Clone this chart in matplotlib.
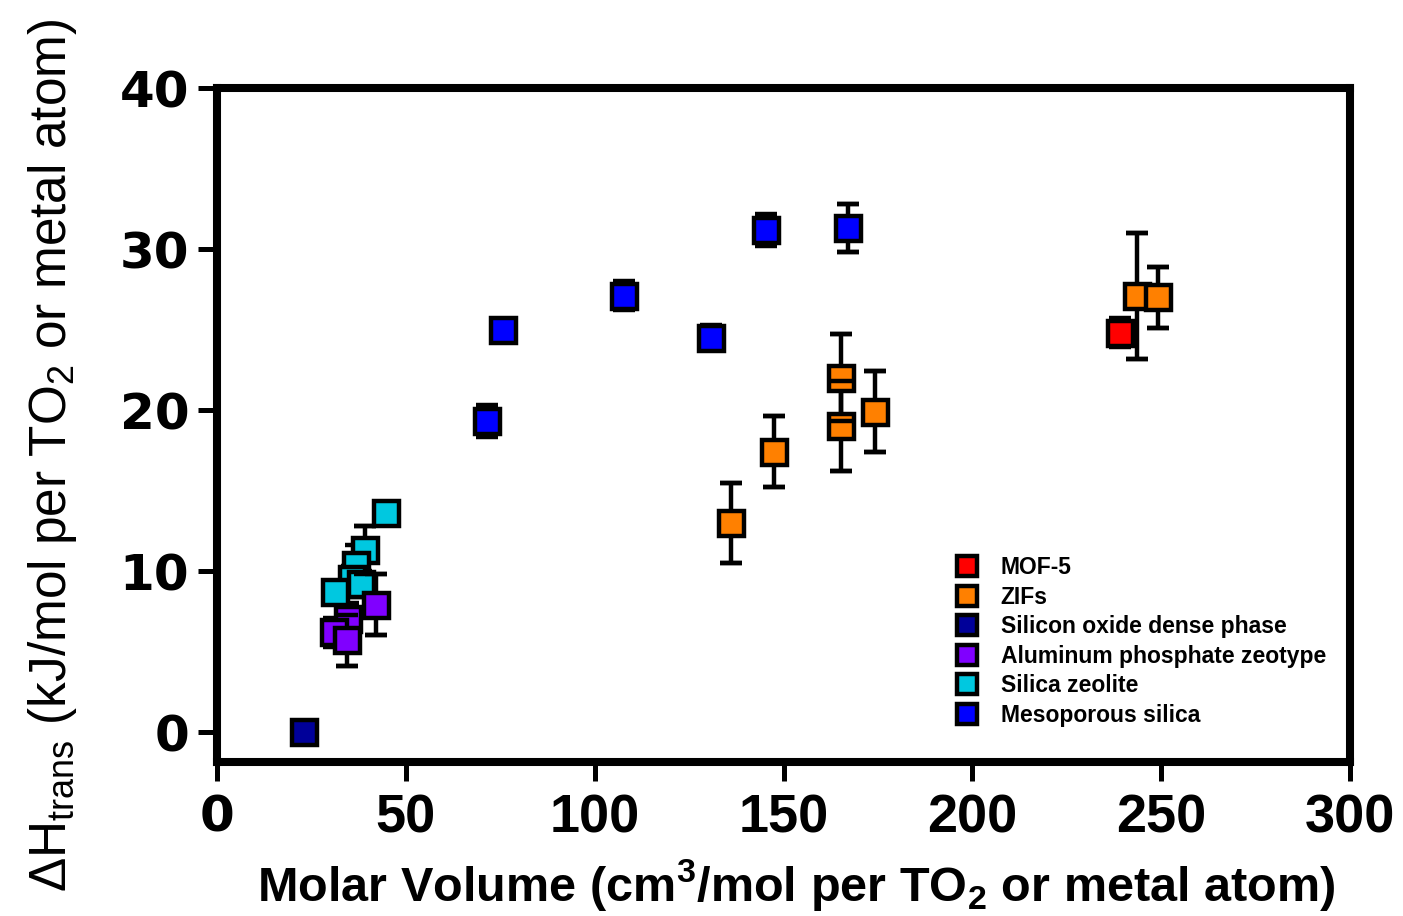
import matplotlib.pyplot as plt
import matplotlib as mpl

# --- Data ---
mof5_x = [239.2]
mof5_y = [24.8]
mof5_err = [0.9]

zif_x = [136.1, 147.5, 165.2, 165.2, 174.3, 243.7, 249.2]
zif_y = [13.0, 17.4, 22.0, 19.0, 19.9, 27.1, 27.0]
zif_err = [2.5, 2.2, 2.7, 2.8, 2.5, 3.9, 1.9]

sio2_x = [23.0]
sio2_y = [0.0]
sio2_err = [0.0]

alpo_x = [42.2, 34.6, 31.0, 34.4]
alpo_y = [7.9, 7.0, 6.2, 5.7]
alpo_err = [1.9, 1.0, 0.9, 1.6]

zeo_x = [44.7, 39.3, 36.7, 35.8, 38.2, 31.2]
zeo_y = [13.6, 11.3, 10.4, 9.5, 9.2, 8.7]
zeo_err = [0.0, 1.5, 1.2, 0.8, 0.8, 0.4]

meso_x = [71.5, 75.7, 107.8, 130.8, 145.4, 167.1]
meso_y = [19.3, 25.0, 27.1, 24.5, 31.2, 31.3]
meso_err = [1.0, 0.0, 0.9, 0.8, 1.0, 1.5]

labels = ["MOF-5", "ZIFs", "Silicon oxide dense phase",
          "Aluminum phosphate zeotype", "Silica zeolite", "Mesoporous silica"]
colors = ["#FF0000", "#FF8000", "#000099", "#8000FF", "#00C8E0", "#0000FF"]

series = [
    (mof5_x, mof5_y, mof5_err),
    (zif_x, zif_y, zif_err),
    (sio2_x, sio2_y, sio2_err),
    (alpo_x, alpo_y, alpo_err),
    (zeo_x, zeo_y, zeo_err),
    (meso_x, meso_y, meso_err),
]
# drawing order (cyan under purple in the low-volume cluster)
draw_order = [0, 1, 2, 4, 3, 5]

mpl.rcParams['mathtext.fontset'] = 'custom'
mpl.rcParams['mathtext.rm'] = 'Liberation Sans'
mpl.rcParams['mathtext.bf'] = 'Liberation Sans:bold'

fig = plt.figure(figsize=(14.03, 9.16), dpi=100)
ax = fig.add_axes([0.1547, 0.1681, 0.8075, 0.7358])

ms, lw = 18, 3.2
handles = {}
for i in draw_order:
    x, y, err = series[i]
    eb = ax.errorbar(x, y, yerr=err, fmt='s', ms=ms, mfc=colors[i], mec='black',
                     mew=lw, ecolor='black', elinewidth=lw, capsize=8,
                     capthick=lw, label=labels[i], zorder=2)
    for art in list(eb[1]) + list(eb[2]):
        art.set_zorder(1)
    handles[i] = eb[0]

    # caps of the long error bars sit on top of neighbouring markers
    big = [k for k in range(len(x)) if err[k] > 1.2]
    if big:
        eb2 = ax.errorbar([x[k] for k in big], [y[k] for k in big],
                          yerr=[err[k] for k in big], fmt='none', ecolor='black',
                          elinewidth=0, capsize=8, capthick=lw)
        for cap in eb2[1]:
            cap.set_zorder(3)

ax.set_xlim(0, 300)
ax.set_ylim(-1.86, 40)
ax.set_xticks([0, 50, 100, 150, 200, 250, 300])
ax.set_yticks([0, 10, 20, 30, 40])

for s in ax.spines.values():
    s.set_linewidth(5.8)

ax.tick_params(axis='both', direction='out', length=14, width=3.6)
ax.tick_params(axis='y', pad=6)
ax.tick_params(axis='x', pad=9)

for t in ax.get_yticklabels():
    t.set_fontfamily('DejaVu Sans')
    t.set_fontweight('bold')
    t.set_fontsize(36)
for t in ax.get_xticklabels():
    t.set_fontfamily('Liberation Sans')
    t.set_fontweight('bold')
    t.set_fontsize(39)
xt = ax.get_xticklabels()
xt[0].set_fontfamily('DejaVu Sans')
xt[0].set_fontsize(36)

ax.set_xlabel(r'Molar Volume (cm$^{\mathbf{3}}$/mol per TO$_{\mathbf{2}}$ or metal atom)',
              fontfamily='Liberation Sans', fontweight='bold', fontsize=35)
ax.xaxis.set_label_coords(0.5115, -0.141)
ax.set_ylabel(r'ΔH$_{\mathrm{trans}}$ (kJ/mol per TO$_{\mathrm{2}}$ or metal atom)',
              fontfamily='Liberation Sans', fontsize=37)
ax.yaxis.set_label_coords(-0.122, 0.455)

leg = ax.legend([handles[i] for i in range(6)], labels, loc='upper left',
                bbox_to_anchor=(0.642, 0.322), frameon=False, borderpad=0,
                handlelength=1.0, handletextpad=0.95, labelspacing=0.28,
                markerscale=0.78, prop={'family': 'Liberation Sans', 'weight': 'bold', 'size': 16.5})

fig.savefig('out.png', dpi=100)
